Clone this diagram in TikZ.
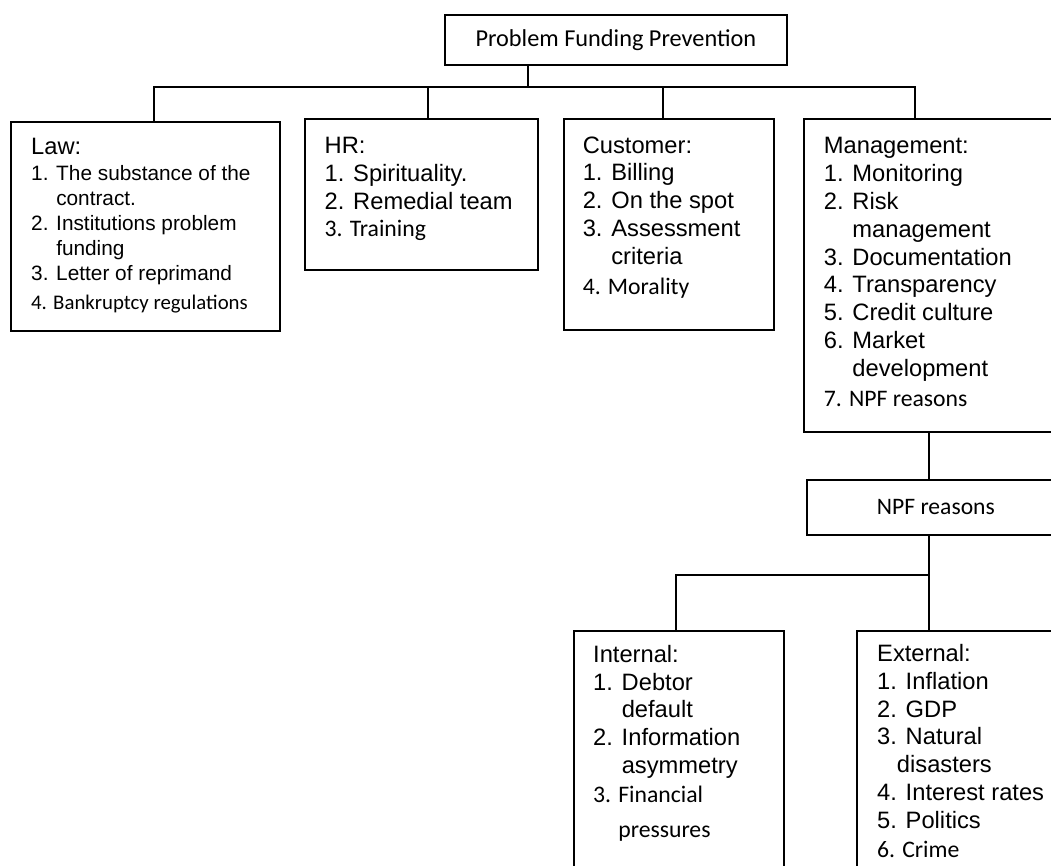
\documentclass[tikz,border=0pt]{standalone}
\usepackage{fontspec}
\setmainfont{Liberation Sans}
\newfontfamily\calib{Carlito}
\usetikzlibrary{positioning}

\tikzset{
  box/.style={draw, line width=1.7pt, anchor=north west, inner sep=0pt},
  list/.style={anchor=base west, align=left, inner sep=0pt,
    font=\fontsize{23.7}{27.8}\selectfont},
  link/.style={line width=1.7pt},
}

\begin{document}
\begin{tikzpicture}[x=1pt,y=-1pt]
\useasboundingbox (0,0) rectangle (1051,866);
\clip (0,0) rectangle (1051,866);

% boxes
\node[box, minimum width=342pt, minimum height=50pt] (prob) at (444,14)
  {\calib\fontsize{24.3}{28}\selectfont Problem Funding Prevention};
\node[box, minimum width=269pt, minimum height=209pt] (law) at (10,121) {};
\node[box, minimum width=233pt, minimum height=151pt] (hr) at (304,118) {};
\node[box, minimum width=210pt, minimum height=211pt] (cust) at (563,118) {};
\node[box, minimum width=300pt, minimum height=313pt] (mgmt) at (803,118) {};
\node[box, minimum width=258pt, minimum height=55pt] (npf) at (806,479)
  {\calib\fontsize{23.6}{28}\selectfont NPF reasons};
\node[box, minimum width=210pt, minimum height=300pt] (intern) at (573,630) {};
\node[box, minimum width=300pt, minimum height=300pt] (extern) at (856,630) {};

% texts (placed by the baseline of their last line)
\node[list, font=\fontsize{20.8}{25}\selectfont] (lawtxt) at (31,309)
  {{\fontsize{23.7}{25}\selectfont Law:}\\
   1. The substance of the\\
   \phantom{1. }contract.\\
   2. Institutions problem\\
   \phantom{2. }funding\\
   3. Letter of reprimand\\[4pt]
   {\calib 4. Bankruptcy regulations}};
\node[list] (hrtxt) at (324.5,237)
  {HR:\\
   1. Spirituality.\\
   2. Remedial team\\
   {\calib 3. Training}};
\node[list] (custtxt) at (582.6,294.6)
  {Customer:\\
   1. Billing\\
   2. On the spot\\
   3. Assessment\\
   \phantom{3. }criteria\\[2.5pt]
   {\calib 4. Morality}};
\node[list] (mgmttxt) at (823.7,406)
  {Management:\\
   1. Monitoring\\
   2. Risk\\
   \phantom{2. }management\\
   3. Documentation\\
   4. Transparency\\
   5. Credit culture\\
   6. Market\\
   \phantom{6. }development\\[2pt]
   {\calib 7. NPF reasons}};
\node[list] (inttxt) at (593,837)
  {Internal:\\
   1. Debtor\\
   \phantom{1. }default\\
   2. Information\\
   \phantom{2. }asymmetry\\[1pt]
   {\calib 3. Financial}\\[7pt]
   {\calib\phantom{3. }pressures}};
\node[list] (exttxt) at (877,857)
  {External:\\
   1. Inflation\\
   2. GDP\\
   3. Natural\\
   \phantom{3.}disasters\\
   4. Interest rates\\
   5. Politics\\[1pt]
   {\calib 6. Crime}};

% joints
\coordinate (jtop) at (528,87);
\coordinate (jlaw) at (154,87);
\coordinate (jhr) at (428,87);
\coordinate (jcust) at (663,87);
\coordinate (jmgmt) at (915,87);
\coordinate (jnpf) at (929,575);
\coordinate (jint) at (676,575);

% connectors
\draw[link] (jtop |- prob.south) -- (jtop);
\draw[link] (jlaw |- law.north) -- (jlaw) -- (jmgmt) -- (jmgmt |- mgmt.north);
\draw[link] (jhr) -- (jhr |- hr.north);
\draw[link] (jcust) -- (jcust |- cust.north);
\draw[link] (mgmt.south -| jnpf) -- (npf.north -| jnpf);
\draw[link] (npf.south -| jnpf) -- (extern.north -| jnpf);
\draw[link] (jint |- intern.north) -- (jint) -- (jnpf);
\end{tikzpicture}
\end{document}
